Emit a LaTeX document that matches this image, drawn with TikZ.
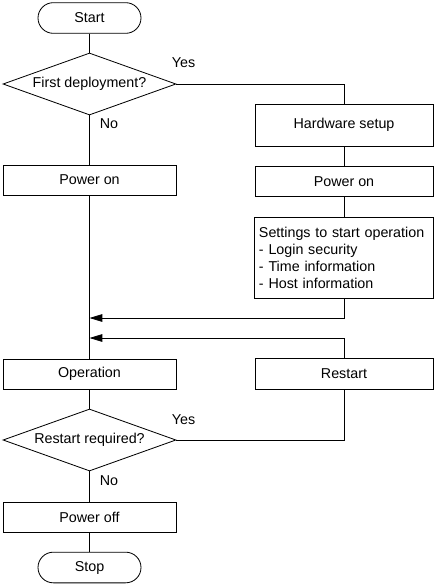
\documentclass[tikz,border=0pt]{standalone}
\usepackage{fontspec}
\setmainfont{Liberation Sans}
\usetikzlibrary{arrows.meta,shapes.geometric}

\begin{document}
\begin{tikzpicture}[x=0.03cm, y=-0.03cm, line width=0.7pt,
		every node/.style={font=\fontsize{12.2}{14.5}\selectfont},
		terminal/.style={draw, rectangle, rounded corners=0.46cm, minimum width=3.09cm, minimum height=0.92cm, inner sep=0},
		box/.style={draw, rectangle, minimum width=5.19cm, minimum height=0.9cm, inner sep=0},
		sidebox/.style={draw, rectangle, minimum width=5.34cm, minimum height=0.92cm, inner sep=0},
		decision/.style={draw, diamond, aspect=2.8, minimum width=5.19cm, minimum height=1.86cm, inner sep=0},
		flowarrow/.style={-{Triangle[length=11pt,width=6.5pt]}}]
		%%%%% START %%%%%
		
		\useasboundingbox (0, 0) rectangle (436, 586);
		
		\node[terminal] (start) at (89.5, 18) {Start};
		\node[decision] (first) at (89.5, 84) {First deployment?};
		\node[box] (powerL) at (89.5, 180) {Power on};
		\node[box] (operation) at (89.5, 374) {Operation};
		\node[decision] (restartq) at (89.5, 440) {Restart required?};
		\node[box] (poweroff) at (89.5, 517) {Power off};
		\node[terminal] (stop) at (89.5, 567.5) {Stop};
		
		\node[sidebox, minimum height=1.26cm] (hw) at (344, 125) {Hardware setup};
		\node[sidebox] (powerR) at (344, 181.5) {Power on};
		\node[sidebox, minimum width=5.37cm, minimum height=2.43cm, text width=5.1cm, align=left] (settings) at (344, 257.5) {Settings to start operation\\- Login security\\- Time information\\- Host information};
		\node[sidebox] (restart) at (344, 374) {Restart};
		
		\node (yesA) at (183.5, 63) {Yes};
		\node (noA) at (109, 124) {No};
		\node (yesB) at (183.5, 420) {Yes};
		\node (noB) at (109, 481) {No};
		
		\coordinate (joinA) at (89.5, 318);
		\coordinate (joinB) at (89.5, 338);
		
		\draw (start) -- (first);
		\draw (first.east) -| (hw.north);
		\draw (first) -- (powerL);
		\draw (hw) -- (powerR);
		\draw (powerR) -- (settings);
		\draw (powerL) -- (operation);
		\draw[flowarrow] (settings.south) |- (joinA);
		\draw[flowarrow] (restart.north) |- (joinB);
		\draw (operation) -- (restartq);
		\draw (restartq.east) -| (restart.south);
		\draw (restartq) -- (poweroff);
		\draw (poweroff) -- (stop);
		
		%%%%% END %%%%%
	\end{tikzpicture}
\end{document}
